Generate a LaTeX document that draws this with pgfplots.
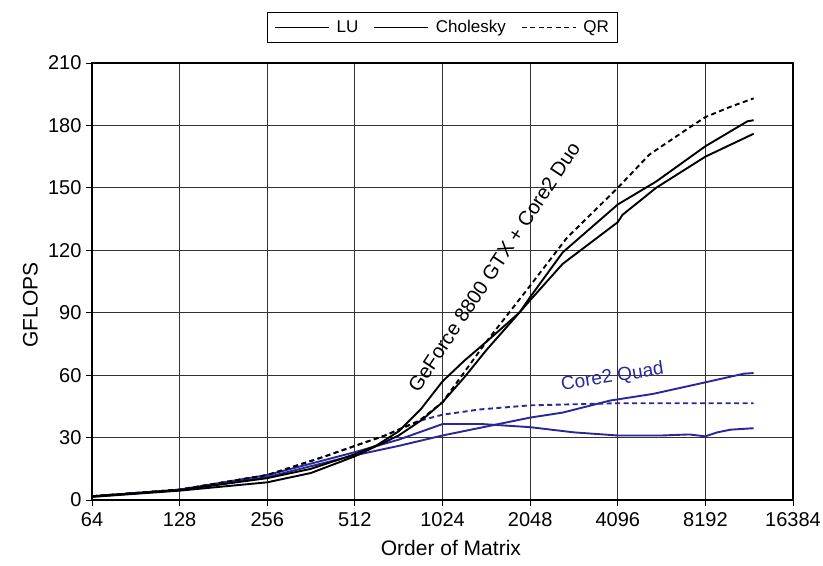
\documentclass[border=0pt]{standalone}
\usepackage{fontspec}
\setmainfont{Liberation Sans}
\usepackage{pgfplots}
\pgfplotsset{compat=1.18}
\definecolor{qblue}{RGB}{40,40,150}

\begin{document}
\begin{tikzpicture}
\begin{axis}[
  scale only axis, width=701pt, height=437pt,
  xmode=log, log basis x=2,
  xmin=64, xmax=16384, ymin=0, ymax=210,
  xtick={64,128,256,512,1024,2048,4096,8192,16384},
  xticklabels={64,128,256,512,1024,2048,4096,8192,16384},
  ytick={0,30,60,90,120,150,180,210},
  tick align=outside, xtick pos=left, ytick pos=left,
  major tick length=6pt,
  grid=major, major grid style={black!80, line width=1pt},
  axis line style={black, line width=1.1pt},
  tick style={black, line width=0.9pt},
  ticklabel style={font=\fontsize{20}{22}\selectfont},
  xticklabel style={yshift=-3pt},
  yticklabel style={xshift=-1pt},
  /pgf/number format/assume math mode=true,
  xlabel={Order of Matrix}, ylabel={GFLOPS},
  label style={font=\fontsize{21}{23}\selectfont},
  xlabel style={at={(axis description cs:0.512,-0.11)}, anchor=center},
  ylabel style={at={(axis description cs:-0.088,0.446)}, anchor=center},
  legend style={at={(0.5,1.046)}, anchor=south, legend columns=3, draw=black, line width=1pt,
    font=\fontsize{17}{19}\selectfont, inner xsep=7pt, inner ysep=6pt,
    /tikz/every odd column/.append style={column sep=5pt},
    /tikz/every even column/.append style={column sep=13pt}},
  legend image code/.code={\draw[#1] (0pt,0pt) -- (54pt,0pt);},
]
\coordinate (pSW) at (rel axis cs:0,0);
\coordinate (pNE) at (rel axis cs:1,1);

\addlegendimage{black, line width=1.5pt}
\addlegendentry{LU}
\addlegendimage{black, line width=1.5pt}
\addlegendentry{Cholesky}
\addlegendimage{black, line width=1.5pt, dash pattern=on 5pt off 3.5pt}
\addlegendentry{QR}

% Core2 Quad (blue)
\addplot[qblue, line width=1.9pt, forget plot] coordinates {
(64,1.6) (128,4.8) (256,11) (512,21.5) (724,26) (1024,31) (2048,39.6) (2648,42)
(3860,47.8) (5420,51) (7870,56) (11100,60.7) (12000,61)};
\addplot[qblue, line width=1.9pt, forget plot] coordinates {
(64,1.8) (128,5) (256,12) (512,23) (724,29) (1024,36.5) (1400,36.5) (2048,35)
(2896,32.5) (4096,31) (5800,31) (7200,31.5) (8192,30.6) (9000,32.5) (10000,33.8) (12000,34.5)};
\addplot[qblue, line width=1.9pt, dash pattern=on 5pt off 3.5pt, forget plot] coordinates {
(64,1.8) (128,5) (256,12) (395,20.5) (512,26) (650,31) (850,38) (1024,41)
(1370,43.5) (2048,45.5) (4096,46.5) (8192,46.5) (12000,46.5)};

% GeForce 8800 GTX + Core2 Duo (black)
\addplot[black, line width=1.9pt, forget plot] coordinates {
(64,1.8) (128,4.8) (256,10.5) (362,15) (512,22) (609,26.3) (724,33) (861,43.5) (1024,57)
(1218,67) (1448,76) (1880,90) (2048,96) (2650,113.5) (4096,133.5) (4250,137) (5545,150)
(8192,165) (12000,176)};
\addplot[black, line width=1.9pt, forget plot] coordinates {
(64,1.5) (128,4.5) (256,8.5) (362,13) (512,21) (724,31) (870,38.5) (1024,47) (1218,59) (1448,72)
(1880,90) (2048,97.5) (2650,119) (4096,142) (5545,153) (8192,170) (11430,182) (12000,182.5)};
\addplot[black, line width=1.9pt, dash pattern=on 5pt off 3.5pt, forget plot] coordinates {
(64,1.8) (128,5) (256,12) (395,20.5) (512,26) (650,31) (850,38) (1024,47)
(1448,76) (2048,103) (2740,126) (4096,150) (5260,166) (7225,179) (8192,184)
(10000,189) (12000,193)};

\node[rotate=56.5, font=\fontsize{20}{22}\selectfont] at (axis cs:1540,112) {GeForce 8800 GTX + Core2 Duo};
\node[rotate=9, text=qblue, font=\fontsize{19}{21}\selectfont] at (axis cs:3930,59) {Core2 Quad};
\end{axis}
\pgfresetboundingbox
\path[use as bounding box] ([xshift=-92pt,yshift=-65pt]pSW) rectangle ([xshift=30pt,yshift=63pt]pNE);
\end{tikzpicture}
\end{document}
